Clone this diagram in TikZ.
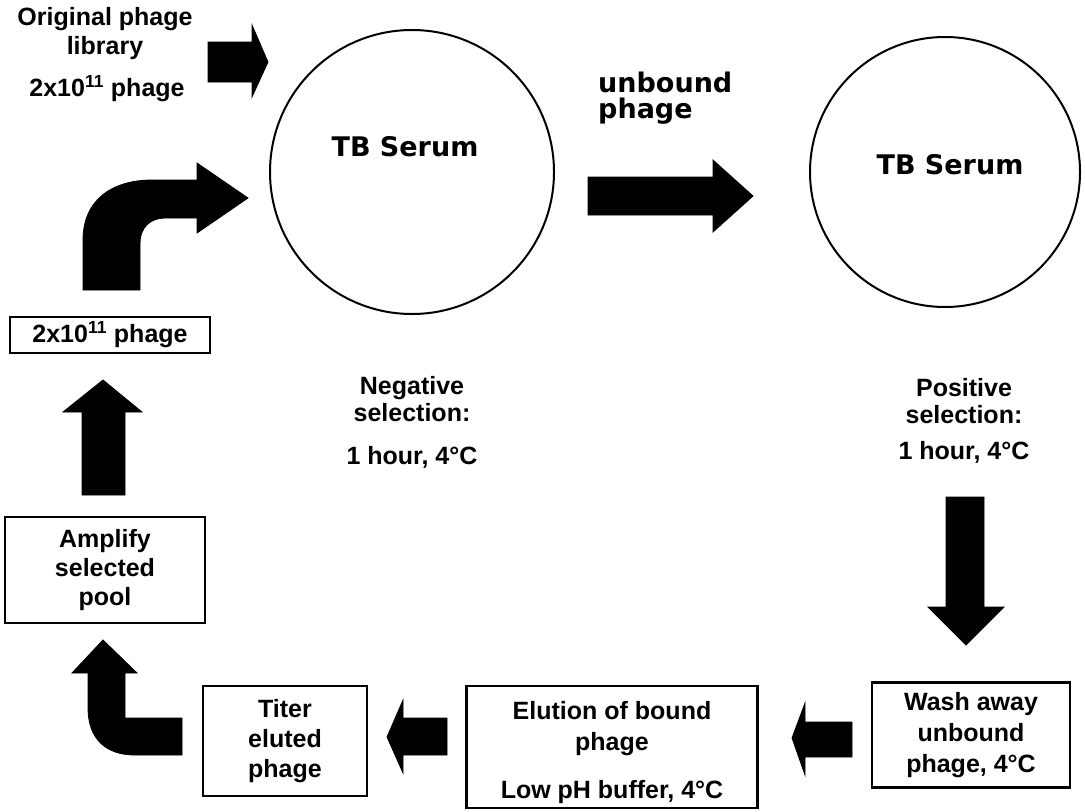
\documentclass[tikz,border=0pt]{standalone}
\usepackage{fontspec}
\setmainfont{Liberation Sans}
\newfontfamily\verd{DejaVu Sans}
\begin{document}
\begin{tikzpicture}[x=1pt,y=-1pt,
  lbl/.style={font=\fontsize{25}{29}\selectfont\bfseries, align=center, inner sep=0pt},
  serum/.style={font=\verd\fontsize{27}{30}\selectfont\bfseries, inner sep=0pt},
  box/.style={draw, line width=2.5pt, inner sep=0pt, lbl},
  dish/.style={circle, draw, line width=2pt, inner sep=0pt},
  blk/.style={fill=black, draw=black, line width=0.8pt, line join=miter}]
\useasboundingbox (0,0) rectangle (1086,811);

% serum dishes
\node[dish, minimum size=284] (c1) at (412,172) {};
\node[dish, minimum size=270] (c2) at (945,172) {};
\node[serum] (t1) at (405,147) {TB Serum};
\node[serum] (t2) at (950,165) {TB Serum};

% starting library
\node[lbl] (lib) at (105,34) {Original phage\\library};
\node[lbl] (libn) at (107,89) {2x10\textsuperscript{11} phage};

% unbound phage label
\node[serum, align=left, anchor=north west, font=\verd\fontsize{27}{26}\selectfont\bfseries] (unb) at (598,72) {unbound\\phage};

% selection step labels
\node[lbl, font=\fontsize{25}{27}\selectfont\bfseries] (neg) at (412,422) {Negative\\selection:\\[16pt]1 hour, 4°C};
\node[lbl, font=\fontsize{25}{27}\selectfont\bfseries] (pos) at (964,421) {Positive\\selection:\\[9pt]1 hour, 4°C};

% process boxes
\node[box, minimum width=200, minimum height=36] (b1) at (110,335) {2x10\textsuperscript{11} phage};
\node[box, minimum width=200, minimum height=106] (b2) at (105,570) {Amplify\\selected\\pool};
\node[box, minimum width=164, minimum height=110, font=\fontsize{25}{30}\selectfont\bfseries] (b3) at (285,741) {Titer\\eluted\\phage};
\node[box, minimum width=291, minimum height=122] (b4) at (612,747) {};
\node[lbl, font=\fontsize{25}{31}\selectfont\bfseries] (b4a) at (612,729) {Elution of bound\\phage};
\node[lbl] (b4b) at (612,792) {Low pH buffer, 4°C};
\node[box, minimum width=198, minimum height=105, font=\fontsize{25}{31}\selectfont\bfseries] (b5) at (971,735) {Wash away\\unbound\\phage, 4°C};

% block arrows
% library -> negative dish
\path[blk] (208,42) -- (252,42) -- (252,25) -- (268,62) -- (252,97) -- (252,82) -- (208,82) -- cycle;
% negative dish -> positive dish
\path[blk] (588,177) -- (713,177) -- (713,160) -- (753,196) -- (713,232) -- (713,215) -- (588,215) -- cycle;
% amplified pool -> negative dish (bent)
\path[blk] (83,290) -- (83,240) .. controls (83,200) and (112,180) .. (152,180) -- (197,180) -- (197,163) -- (248,198) -- (197,233) -- (197,218) -- (165,218) .. controls (150,218) and (140,228) .. (140,243) -- (140,290) -- cycle;
% amplify -> 2x10^11 phage
\path[blk] (103,380) -- (142,412) -- (125,412) -- (125,495) -- (82,495) -- (82,412) -- (63,412) -- cycle;
% titer -> amplify (bent)
\path[blk] (103,640) -- (137,673) -- (125,673) -- (125,718) -- (182,718) -- (182,755) -- (135,755) .. controls (105,755) and (88,738) .. (88,708) -- (88,673) -- (72,673) -- cycle;
% elution -> titer
\path[blk] (387,737) -- (403,700) -- (403,718) -- (447,718) -- (447,755) -- (403,755) -- (403,773) -- cycle;
% wash -> elution
\path[blk] (792,738) -- (805,703) -- (805,722) -- (852,722) -- (852,757) -- (805,757) -- (805,775) -- cycle;
% positive selection -> wash
\path[blk] (946,497) -- (984,497) -- (984,607) -- (1004,607) -- (966,645) -- (928,607) -- (946,607) -- cycle;
\end{tikzpicture}
\end{document}
